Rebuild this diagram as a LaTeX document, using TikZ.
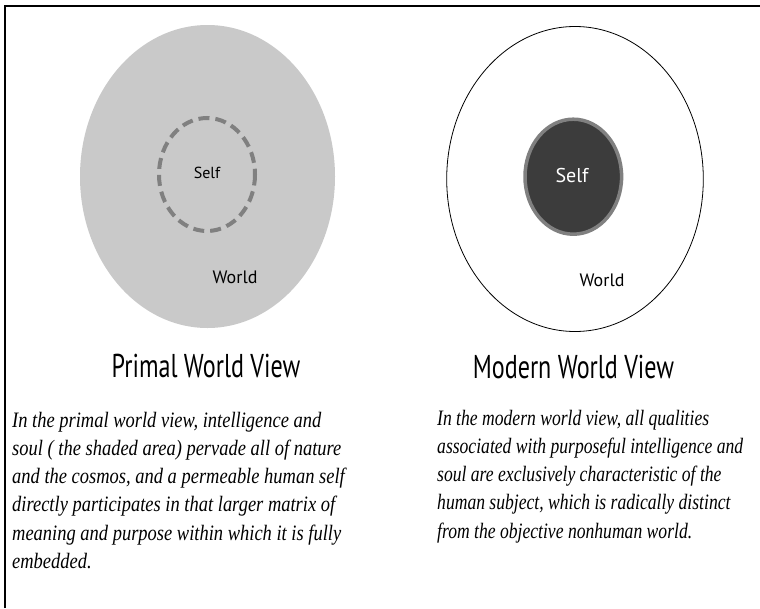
\documentclass[tikz,border=0pt]{standalone}
\usepackage{fontspec}
\newfontfamily\headf[FakeStretch=0.73]{PT Sans}
\newfontfamily\labf{PT Sans}
\newfontfamily\bodyf[FakeStretch=0.84]{Liberation Serif}
\newfontfamily\bodyg[FakeStretch=0.80]{Liberation Serif}
\definecolor{worldgray}{HTML}{C9C9C9}
\definecolor{dashgray}{HTML}{808080}
\definecolor{selfdark}{HTML}{3C3C3C}
\tikzset{
  frameline/.style={line width=1.5pt, black},
  lbl/.style={font=\labf\fontsize{18}{21}\selectfont, inner sep=0pt},
  title/.style={font=\headf\fontsize{33}{38}\selectfont, inner sep=0pt, anchor=base},
  body/.style={font=\bodyf\itshape\fontsize{22}{28.3}\selectfont, inner sep=0pt, anchor=base west, align=left},
}
\begin{document}
\begin{tikzpicture}[x=1pt,y=-1pt]
\useasboundingbox (0,0) rectangle (760,608);
\fill[white] (0,0) rectangle (760,608);
% frame
\coordinate (fl) at (5,608);
\coordinate (fc) at (5,6);
\coordinate (fr) at (760,6);
\draw[frameline] (fl) -- (fc) -- (fr);
% primal
\fill[worldgray] (207.5,176.5) ellipse [x radius=127.5, y radius=151.5];
\draw[dashgray, line width=4pt, dash pattern=on 11pt off 6pt] (207,174.5) ellipse [x radius=48, y radius=56.5];
\node[lbl, font=\labf\fontsize{16}{19}\selectfont] (self1) at (207,173) {Self};
\node[lbl] (world1) at (235,277) {World};
% modern
\draw[black, line width=0.8pt] (575,179) ellipse [x radius=128.3, y radius=152.5];
\draw[dashgray, fill=selfdark, line width=3.5pt] (573.3,176.7) ellipse [x radius=48.3, y radius=57.5];
\node[lbl, text=white, font=\labf\fontsize{20}{23}\selectfont] (self2) at (572,175) {Self};
\node[lbl] (world2) at (602,280) {World};
% titles
\node[title] (t1) at (206,377) {Primal World View};
\node[title] (t2) at (573.5,378) {Modern World View};
% bodies (anchor is the baseline of the last line)
\node[body] (b1) at (12,568.5) {In the primal world view, intelligence and\\
soul ( the shaded area) pervade all of nature\\
and the cosmos, and a permeable human self\\
directly participates in that larger matrix of\\
meaning and purpose within which it is fully\\
embedded.};
\node[body, font=\bodyg\itshape\fontsize{22}{28.3}\selectfont] (b2) at (437,538.2) {In the modern world view, all qualities\\
associated with purposeful intelligence and\\
soul are exclusively characteristic of the\\
human subject, which is radically distinct\\
from the objective nonhuman world.};
\end{tikzpicture}
\end{document}
